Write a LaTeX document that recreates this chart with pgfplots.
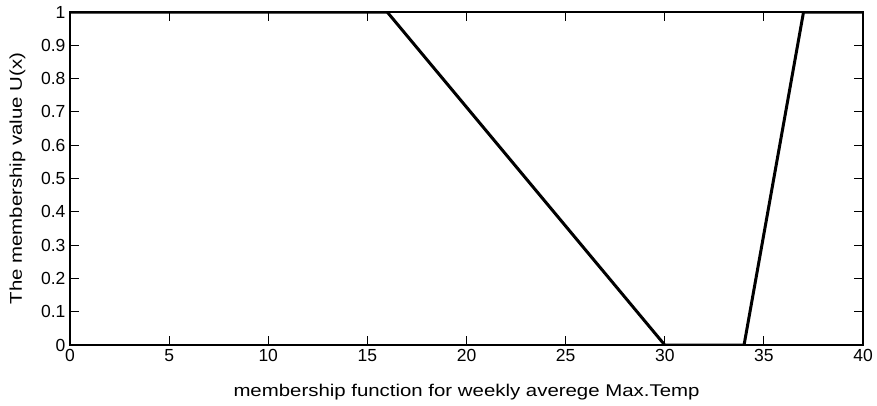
\documentclass[border=0pt]{standalone}
\usepackage{pgfplots}
\pgfplotsset{compat=1.18}
\usepackage{fontspec}
\setmainfont{Liberation Sans}
\newfontfamily\labelfont[FakeStretch=1.2]{Liberation Sans}
\begin{document}
\begin{tikzpicture}
\begin{axis}[
  at={(0pt,0pt)}, anchor=south west,
  scale only axis,
  width=793pt, height=333pt,
  xmin=0, xmax=40, ymin=0, ymax=1,
  xtick={0,5,...,40},
  ytick={0,0.1,...,1},
  tick align=inside,
  major tick length=9pt,
  axis line style={line width=1.3pt},
  every tick/.style={line width=0.9pt, black},
  tick label style={font=\fontsize{17.5}{20}\selectfont},
  xticklabel style={yshift=-1pt},
  yticklabel style={xshift=-1pt},
  /pgf/number format/assume math mode=true,
  xlabel={membership function for weekly averege Max.Temp},
  ylabel={The membership value U(x)},
  xlabel style={font=\labelfont\fontsize{17}{20}\selectfont,
    at={([yshift=-51pt]axis description cs:0.5,0)}, anchor=base},
  ylabel style={font=\labelfont\fontsize{17}{20}\selectfont,
    at={([xshift=-48pt]axis description cs:0,0.5)}, anchor=base},
]
% trapezoidal membership function
\addplot[black, line width=3pt, line join=miter] coordinates {
  (0,1) (16,1) (30,0) (34,0) (37,1) (40,1)
};
\end{axis}
\pgfresetboundingbox
\path[use as bounding box] (-70pt,-60pt) rectangle (807pt,345pt);
\end{tikzpicture}
\end{document}
